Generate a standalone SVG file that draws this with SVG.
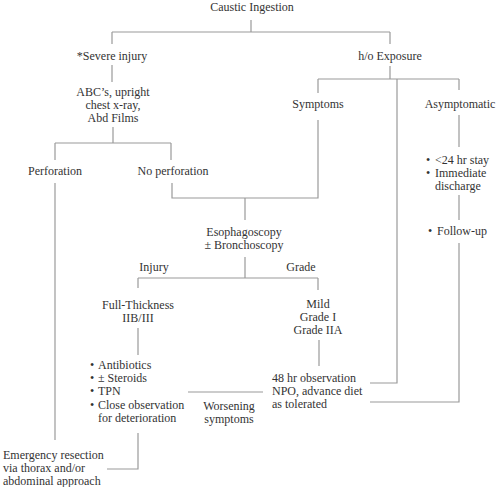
<svg xmlns="http://www.w3.org/2000/svg" width="500" height="487" viewBox="0 0 500 487">
<style>
text{font-family:'Liberation Serif','Times New Roman','DejaVu Serif',serif;font-size:12px;fill:#333}
.c{text-anchor:middle}
.ln{stroke:#9a9a9a;stroke-width:1.2;fill:none}
</style>
<rect width="500" height="487" fill="#fff"/>
<g id="connectors" class="ln">
<path d="M251,20V32M112,32H390M112,32V44M390,32V44"/>
<path d="M112,65V82M113,127V143M55,143H171M55,143V160M171,143V160"/>
<path d="M390,66V79M318,79H459M318,79V93M459,79V90M397,79V383H370"/>
<path d="M318,120V198H172V183M245,198V220"/>
<path d="M55,183V440"/>
<path d="M459,115V147M459,195V220M459,243V402H370"/>
<path d="M245,257V278M138,278H318M138,278V288M318,278V290"/>
<path d="M138,328V355M319,340V366"/>
<path d="M188,392H263"/>
<path d="M138,433V469H107"/>
</g>
<g font-family="Liberation Serif, DejaVu Serif, serif">
<g id="caustic"><text class="c" x="252" y="11">Caustic Ingestion</text></g>
<g id="severe"><text class="c" x="112" y="60">*Severe injury</text></g>
<g id="exposure"><text class="c" x="390" y="60">h/o Exposure</text></g>
<g id="abc"><text class="c" x="113" y="96">ABC’s, upright</text><text class="c" x="113" y="109">chest x-ray,</text><text class="c" x="113" y="122">Abd Films</text></g>
<g id="symptoms"><text class="c" x="318" y="108">Symptoms</text></g>
<g id="asymptomatic"><text class="c" x="460" y="108">Asymptomatic</text></g>
<g id="asym-care"><text x="426" y="164">•</text><text x="435" y="164">&lt;24 hr stay</text><text x="426" y="177">•</text><text x="435" y="177">Immediate</text><text x="435" y="190">discharge</text></g>
<g id="followup"><text x="428" y="235">•</text><text x="437" y="235">Follow-up</text></g>
<g id="perforation"><text class="c" x="55" y="175">Perforation</text></g>
<g id="noperforation"><text class="c" x="173" y="175">No perforation</text></g>
<g id="esophagoscopy"><text class="c" x="244" y="236">Esophagoscopy</text><text class="c" x="244" y="249">± Bronchoscopy</text></g>
<g id="injury-label"><text class="c" x="154" y="271">Injury</text></g>
<g id="grade-label"><text class="c" x="301" y="271">Grade</text></g>
<g id="fullthickness"><text class="c" x="138" y="309">Full-Thickness</text><text class="c" x="138" y="322">IIB/III</text></g>
<g id="mild"><text class="c" x="318" y="308">Mild</text><text class="c" x="318" y="321">Grade I</text><text class="c" x="318" y="334">Grade IIA</text></g>
<g id="treatment"><text x="90" y="369">•</text><text x="98" y="369">Antibiotics</text><text x="90" y="382">•</text><text x="98" y="382">± Steroids</text><text x="90" y="395">•</text><text x="98" y="395">TPN</text><text x="90" y="409">•</text><text x="98" y="409">Close observation</text><text x="98" y="422">for deterioration</text></g>
<g id="worsening"><text class="c" x="229" y="410">Worsening</text><text class="c" x="229" y="423">symptoms</text></g>
<g id="observation"><text x="272" y="382">48 hr observation</text><text x="272" y="395">NPO, advance diet</text><text x="272" y="408">as tolerated</text></g>
<g id="emergency"><text x="3" y="459">Emergency resection</text><text x="3" y="472">via thorax and/or</text><text x="3" y="485">abdominal approach</text></g>
</g>
</svg>
